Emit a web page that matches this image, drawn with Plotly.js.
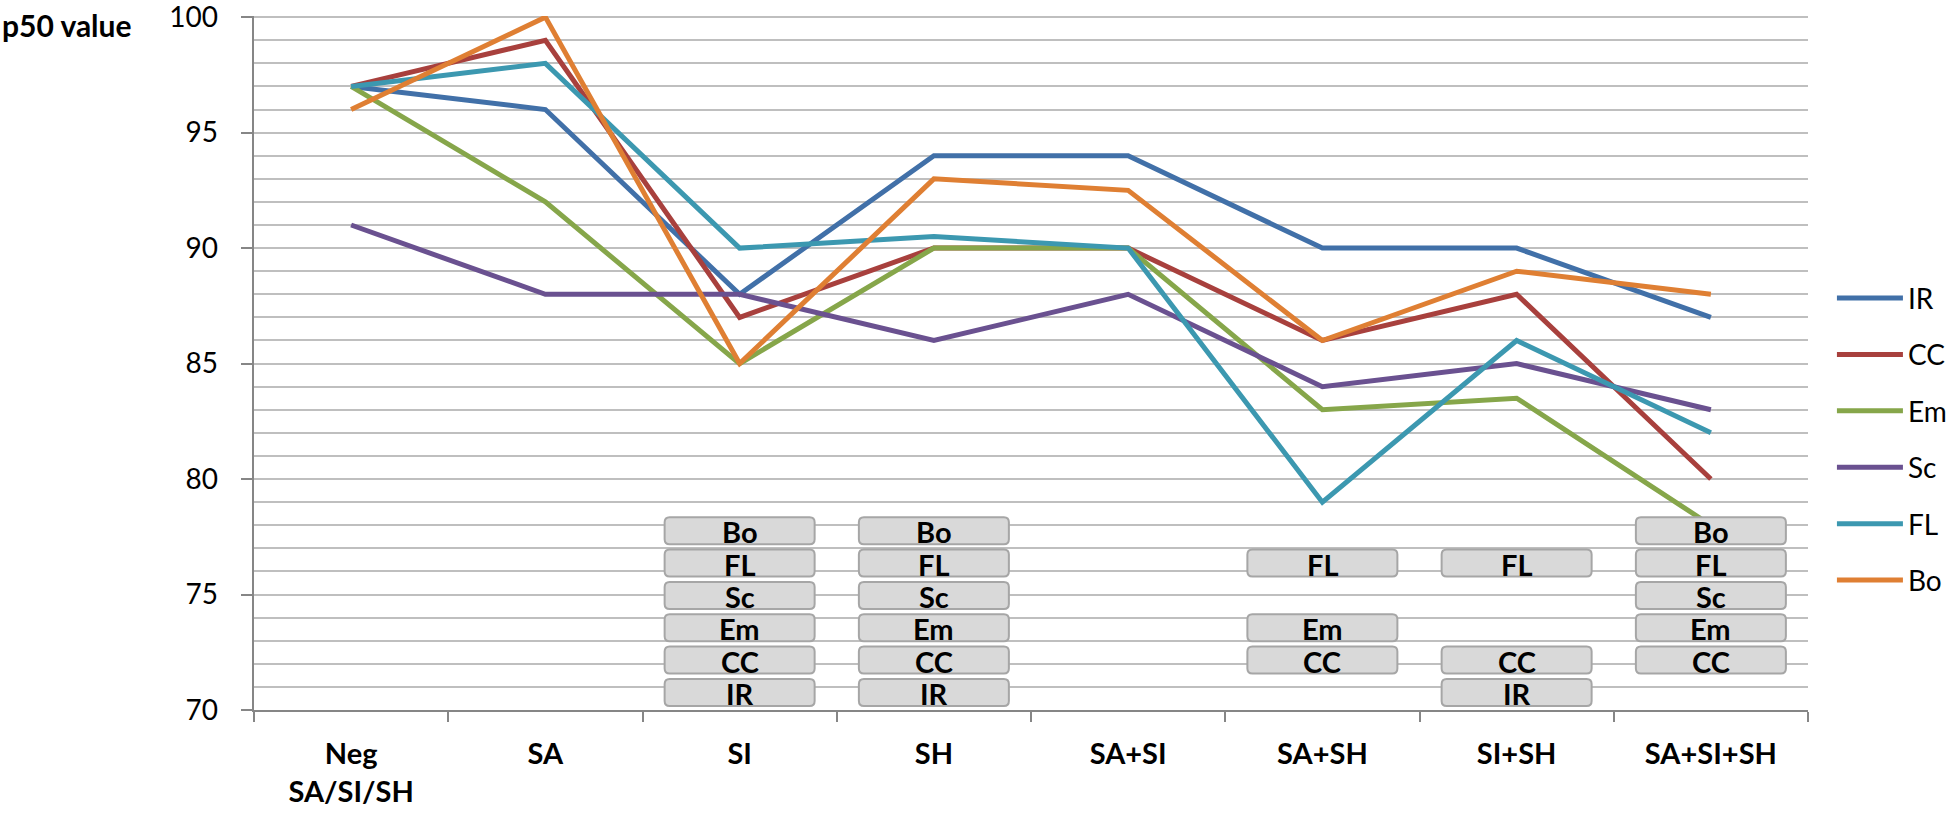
<!DOCTYPE html>
<html>
<head>
<meta charset="utf-8">
<script src="https://cdn.plot.ly/plotly-3.0.1.min.js"></script>
<style>html,body{margin:0;padding:0;background:#fff;}#chart{width:1946px;height:813px;}</style>
</head>
<body>
<div id="chart"></div>
<script>
// ---- data ----
const categories = ['Neg<br>SA/SI/SH', 'SA', 'SI', 'SH', 'SA+SI', 'SA+SH', 'SI+SH', 'SA+SI+SH'];
const seriesNames = ['IR', 'CC', 'Em', 'Sc', 'FL', 'Bo'];
const IR = [97, 96, 88, 94, 94, 90, 90, 87];
const CC = [97, 99, 87, 90, 90, 86, 88, 80];
const Em = [97, 92, 85, 90, 90, 83, 83.5, 78];
const Sc = [91, 88, 88, 86, 88, 84, 85, 83];
const FL = [97, 98, 90, 90.5, 90, 79, 86, 82];
const Bo = [96, 100, 85, 93, 92.5, 86, 89, 88];
const seriesValues = [IR, CC, Em, Sc, FL, Bo];
// box labels per category (significance boxes)
const boxCategories = ['SI', 'SH', 'SA+SH', 'SI+SH', 'SA+SI+SH'];
const boxLabels = [
  ['Bo', 'FL', 'Sc', 'Em', 'CC', 'IR'],
  ['Bo', 'FL', 'Sc', 'Em', 'CC', 'IR'],
  ['FL', 'Em', 'CC'],
  ['FL', 'CC', 'IR'],
  ['Bo', 'FL', 'Sc', 'Em', 'CC']
];
const yTitle = 'p50 value';

// ---- styles ----
const colors = ['#4170A8', '#A8403D', '#86A64A', '#6A5190', '#3C98B0', '#DF7F33'];
const FONT = 'Lato, Carlito, Calibri, sans-serif';
const boxKeyIndex = {'SI': 2, 'SH': 3, 'SA+SH': 5, 'SI+SH': 6, 'SA+SI+SH': 7};
const rowOrder = ['IR', 'CC', 'Em', 'Sc', 'FL', 'Bo'];
const rowBase = 70.76, rowStep = 1.4;

const traces = seriesNames.map((name, i) => ({
  type: 'scatter', mode: 'lines', name: name,
  x: categories, y: seriesValues[i],
  line: {color: colors[i], width: 5},
  legendgroup: name,
  hoverinfo: 'skip'
}));

const W = 75, H = 13.5, R = 5;
const boxPath = `M ${-W+R},${-H} H ${W-R} Q ${W},${-H} ${W},${-H+R} V ${H-R} Q ${W},${H} ${W-R},${H} H ${-W+R} Q ${-W},${H} ${-W},${H-R} V ${-H+R} Q ${-W},${-H} ${-W+R},${-H} Z`;

const shapes = [];
const annotations = [];
boxCategories.forEach((cat, ci) => {
  const xi = boxKeyIndex[cat];
  boxLabels[ci].forEach(lab => {
    const yv = rowBase + rowOrder.indexOf(lab) * rowStep;
    shapes.push({
      type: 'path', xref: 'x', yref: 'y', xsizemode: 'pixel', ysizemode: 'pixel',
      xanchor: xi, yanchor: yv, path: boxPath,
      fillcolor: '#D9D9D9', line: {color: '#A6A6A6', width: 2}, layer: 'above'
    });
    annotations.push({
      xref: 'x', yref: 'y', x: xi, y: yv, yshift: -1, text: '<b>' + lab + '</b>', showarrow: false,
      font: {family: FONT, size: 29, color: '#000'}
    });
  });
});
annotations.push({
  xref: 'paper', yref: 'paper', x: -254/1551, y: (710-25)/694, xanchor: 'left', yanchor: 'middle',
  text: '<b>' + yTitle + '</b>', showarrow: false, font: {family: FONT, size: 30, color: '#000'}
});

const layout = {
  width: 1946, height: 813,
  margin: {l: 254, r: 138, t: 16, b: 103, autoexpand: false},
  paper_bgcolor: '#fff', plot_bgcolor: '#fff',
  font: {family: FONT, color: '#000'},
  showlegend: true,
  legend: {
    x: 1.0154, xanchor: 'left', y: 0.39, yanchor: 'middle',
    font: {family: FONT, size: 28, color: '#000'},
    traceorder: 'grouped', tracegroupgap: 17, itemwidth: 66,
    bgcolor: 'rgba(0,0,0,0)'
  },
  xaxis: {
    type: 'category', range: [-0.5, 7.5], tickson: 'boundaries',
    ticks: 'outside', ticklen: 10, tickwidth: 2, tickcolor: '#868686',
    showline: true, linecolor: '#868686', linewidth: 2, showgrid: false,
    tickfont: {family: FONT, size: 29, color: '#000', weight: 'bold'},
    ticklabelstandoff: 17, fixedrange: true
  },
  yaxis: {
    range: [70, 100.05], tick0: 70, dtick: 5,
    ticks: 'outside', ticklen: 11, tickwidth: 2, tickcolor: '#868686',
    showline: true, linecolor: '#868686', linewidth: 2,
    showgrid: true, gridcolor: '#BFBFBF', gridwidth: 2, zeroline: false,
    minor: {dtick: 1, showgrid: true, gridcolor: '#BFBFBF', gridwidth: 2, ticks: ''},
    tickfont: {family: FONT, size: 28, color: '#000'},
    ticksuffix: '\u2002\u2009', ticklabeloverflow: 'allow', fixedrange: true
  },
  shapes: shapes,
  annotations: annotations
};

Plotly.newPlot('chart', traces, layout, {staticPlot: true, displayModeBar: false});
</script>
</body>
</html>
